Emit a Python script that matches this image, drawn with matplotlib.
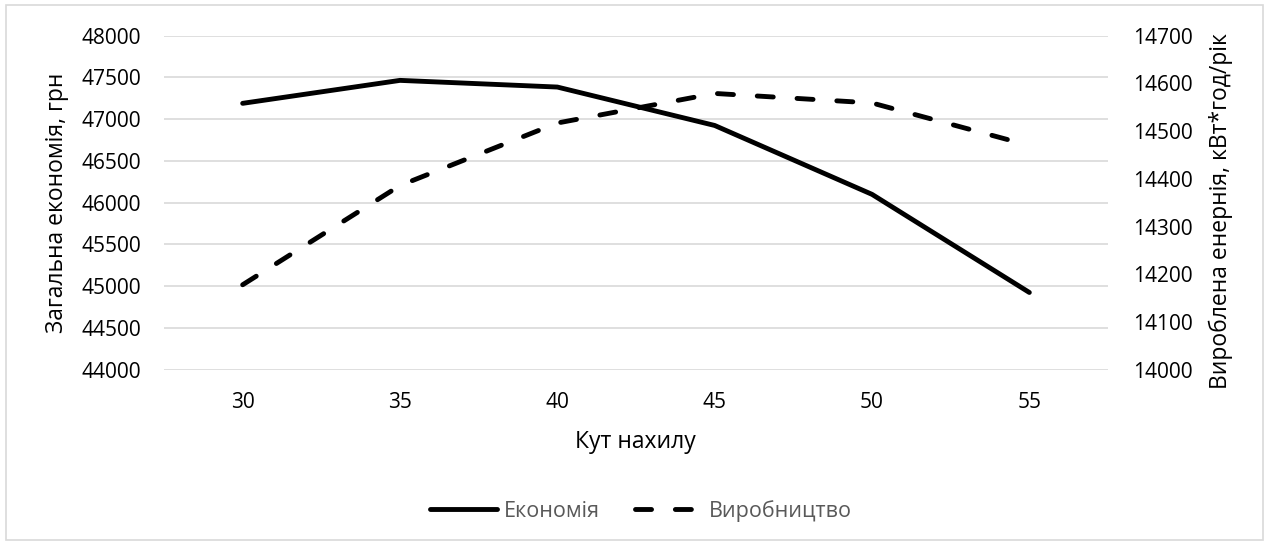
import matplotlib.pyplot as plt
from matplotlib.patches import Rectangle

# --- data ---
angles = ["30", "35", "40", "45", "50", "55"]
savings = [47190, 47465, 47385, 46925, 46100, 44925]        # грн
production = [14178, 14386, 14517, 14579, 14559, 14470]     # кВт*год/рік

left_ticks = list(range(44000, 48001, 500))
right_ticks = list(range(14000, 14701, 100))

plt.rcParams['font.family'] = ['Open Sans', 'DejaVu Sans']
FS = 15        # tick labels
FS_TITLE = 16.5  # axis titles

fig = plt.figure(figsize=(12.7, 5.45), dpi=100)
ax = fig.add_axes([164 / 1270, 1 - 369.7 / 545, 944 / 1270, 334 / 545])
ax2 = ax.twinx()

x = list(range(len(angles)))

ax.plot(x, savings, color='black', lw=3.5, solid_capstyle='round',
        solid_joinstyle='round', label='Економія', zorder=3)
ax2.plot(x, production, color='black', lw=3.5, dashes=(3.3, 4.9),
         dash_capstyle='round', label='Виробництво', zorder=3)

ax.set_xlim(-0.5, len(angles) - 0.5)
ax.set_xticks(x)
ax.set_xticklabels(angles)

ax.set_ylim(44000, 48000)
ax.set_yticks(left_ticks)
ax2.set_ylim(14000, 14700)
ax2.set_yticks(right_ticks)

ax.grid(axis='y', color='#d9d9d9', lw=1.2)
ax.set_axisbelow(True)

for a in (ax, ax2):
    for s in a.spines.values():
        s.set_visible(False)
    a.tick_params(length=0, labelsize=FS, colors='black')
ax.tick_params(axis='y', pad=16.5)
ax.tick_params(axis='x', pad=16)
ax2.tick_params(axis='y', pad=18)

# axis titles
fig.text(57 / 1270, 1 - 203 / 545, 'Загальна економія, грн', rotation=90,
         ha='center', va='center', fontsize=FS_TITLE)
fig.text(1221 / 1270, 1 - 211 / 545, 'Вироблена енернія, кВт*год/рік', rotation=90,
         ha='center', va='center', fontsize=FS_TITLE)
fig.text(635 / 1270, 1 - 442 / 545, 'Кут нахилу', ha='center', va='center',
         fontsize=FS_TITLE)

h1, l1 = ax.get_legend_handles_labels()
h2, l2 = ax2.get_legend_handles_labels()
fig.legend(h1 + h2, l1 + l2, loc='center', bbox_to_anchor=(641 / 1270, 1 - 511 / 545),
           ncol=2, frameon=False, fontsize=15.5, labelcolor='#595959',
           handlelength=3.1, handletextpad=0.35, columnspacing=1.6)

# outer chart border
fig.patches.append(Rectangle((6 / 1270, 5 / 545), 1257 / 1270, 535 / 545,
                             transform=fig.transFigure, fill=False,
                             edgecolor='#d9d9d9', lw=1.2))

fig.savefig('out.png', dpi=100)
